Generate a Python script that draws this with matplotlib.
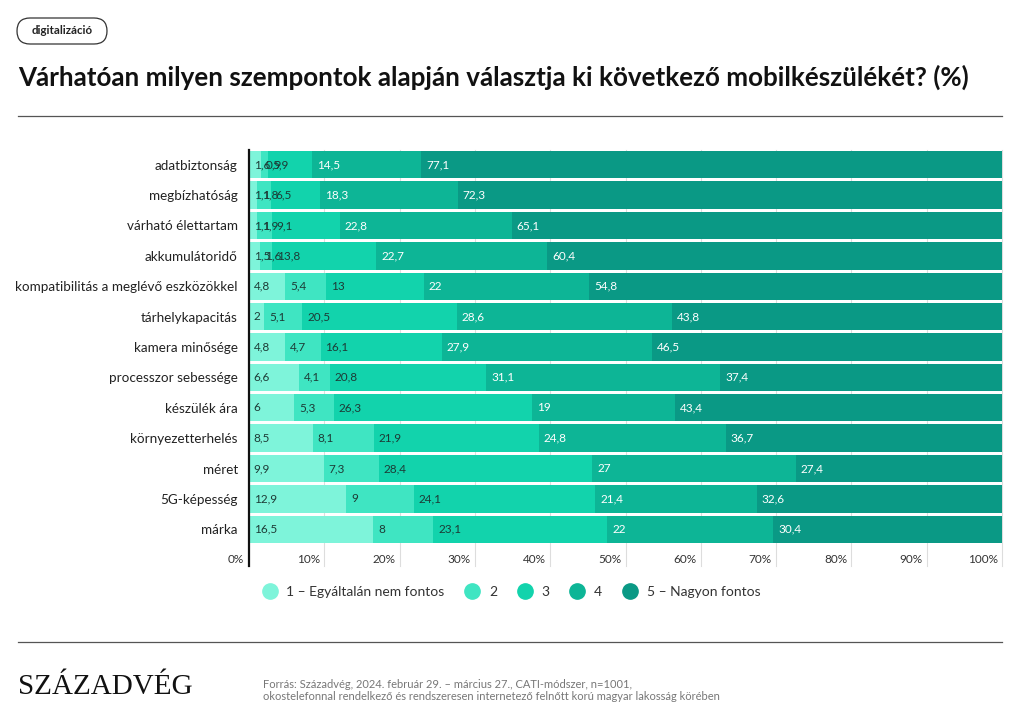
import matplotlib
matplotlib.use("Agg")
import matplotlib.pyplot as plt
from matplotlib.patches import FancyBboxPatch
from matplotlib.lines import Line2D
import matplotlib.transforms as mtransforms

plt.rcParams['font.family'] = ['Lato', 'DejaVu Sans']

categories = ["adatbiztonság", "megbízhatóság", "várható élettartam", "akkumulátoridő",
              "kompatibilitás a meglévő eszközökkel", "tárhelykapacitás", "kamera minősége",
              "processzor sebessége", "készülék ára", "környezetterhelés", "méret",
              "5G-képesség", "márka"]
s1 = [1.6, 1.1, 1.1, 1.5, 4.8, 2, 4.8, 6.6, 6, 8.5, 9.9, 12.9, 16.5]
s2 = [0.9, 1.8, 1.9, 1.6, 5.4, 5.1, 4.7, 4.1, 5.3, 8.1, 7.3, 9, 8]
s3 = [5.9, 6.5, 9.1, 13.8, 13, 20.5, 16.1, 20.8, 26.3, 21.9, 28.4, 24.1, 23.1]
s4 = [14.5, 18.3, 22.8, 22.7, 22, 28.6, 27.9, 31.1, 19, 24.8, 27, 21.4, 22]
s5 = [77.1, 72.3, 65.1, 60.4, 54.8, 43.8, 46.5, 37.4, 43.4, 36.7, 27.4, 32.6, 30.4]
series_names = ["1 – Egyáltalán nem fontos", "2", "3", "4", "5 – Nagyon fontos"]
xticks = [0, 10, 20, 30, 40, 50, 60, 70, 80, 90, 100]

colors = ["#7ef4da", "#3fe5c2", "#12d3ac", "#0db596", "#0a9985"]
text_colors = ["#1d3b36", "#1d3b36", "#1d3b36", "#ffffff", "#ffffff"]

W, H = 1021, 720
fig = plt.figure(figsize=(W / 100, H / 100), dpi=100)

# overlay in pixel coordinates for decorations
ov = fig.add_axes([0, 0, 1, 1], zorder=-1)
ov.set_xlim(0, W)
ov.set_ylim(H, 0)
ov.axis("off")

ax = fig.add_axes([249 / W, 1 - 544.5 / H, (1002 - 249) / W, (544.5 - 149.5) / H])

series = [s1, s2, s3, s4, s5]
y = list(range(len(categories)))
left = [0.0] * len(categories)
for k, s in enumerate(series):
    ax.barh(y, s, left=left, height=0.9, color=colors[k], zorder=2, linewidth=0)
    for i, v in enumerate(s):
        lbl = ("%g" % v).replace(".", ",")
        ax.annotate(lbl, xy=(left[i], i), xytext=(3.5, 0), textcoords="offset points",
                    ha="left", va="center", fontsize=8.5, color=text_colors[k], zorder=3)
    left = [a + b for a, b in zip(left, s)]

ax.set_xlim(0, 100)
ax.set_ylim(len(categories) - 0.5, -0.5)
ax.set_yticks(y)
ax.set_yticklabels(categories, fontsize=9.7, color="#222222")
ax.tick_params(axis="y", length=0, pad=8)
ax.set_xticks([])
for sp in ax.spines.values():
    sp.set_visible(False)

# vertical gridlines extending below
trans = mtransforms.blended_transform_factory(ax.transData, ax.transAxes)
for t in xticks:
    if t == 0:
        continue
    ax.add_line(Line2D([t, t], [1, -0.055], transform=trans, color="#dddddd",
                       lw=0.8, zorder=0, clip_on=False))
    ax.annotate("%d%%" % t, xy=(t, 0), xycoords=trans, xytext=(-3, -10.5),
                textcoords="offset points", ha="right", va="center",
                fontsize=8.5, color="#333333")
ax.annotate("0%", xy=(0, 0), xycoords=trans, xytext=(-4, -10.5),
            textcoords="offset points", ha="right", va="center",
            fontsize=8.5, color="#333333")
ax.add_line(Line2D([0, 0], [1, -0.055], transform=trans, color="#111111",
                   lw=1.6, zorder=4, clip_on=False))

# legend
handles = [Line2D([0], [0], marker="o", linestyle="none", markersize=11,
                  markerfacecolor=c, markeredgecolor=c) for c in colors]
fig.legend(handles, series_names, loc="center", bbox_to_anchor=(508 / W, 1 - 592 / H),
           ncol=5, frameon=False, fontsize=10, handletextpad=0.2,
           columnspacing=1.0, labelcolor="#333333")

# header
tag = FancyBboxPatch((17, 18), 90, 26, boxstyle="round,pad=0,rounding_size=13",
                     facecolor="white", edgecolor="#333333", lw=0.9)
ov.add_patch(tag)
ov.text(62, 31, "digitalizáció", ha="center", va="center",
        fontsize=8.3, fontweight="bold", color="#222222")
ov.text(18, 77,
        "Várhatóan milyen szempontok alapján választja ki következő mobilkészülékét? (%)",
        ha="left", va="center", fontsize=18.7, fontweight="bold", color="#111111")
ov.plot([18, 1002], [116, 116], color="#555555", lw=0.9)
ov.plot([18, 1002], [642, 642], color="#555555", lw=0.9)

# footer
ov.text(18, 687, "SZÁZADVÉG", ha="left", va="center",
        fontsize=21, family="Liberation Serif", color="#111111")
ov.text(263, 684,
        "Forrás: Századvég, 2024. február 29. – március 27., CATI-módszer, n=1001,",
        ha="left", va="center", fontsize=8, color="#777777")
ov.text(263, 697,
        "okostelefonnal rendelkező és rendszeresen internetező felnőtt korú magyar lakosság körében",
        ha="left", va="center", fontsize=8, color="#777777")

fig.savefig("out.png", dpi=100, facecolor="white")
